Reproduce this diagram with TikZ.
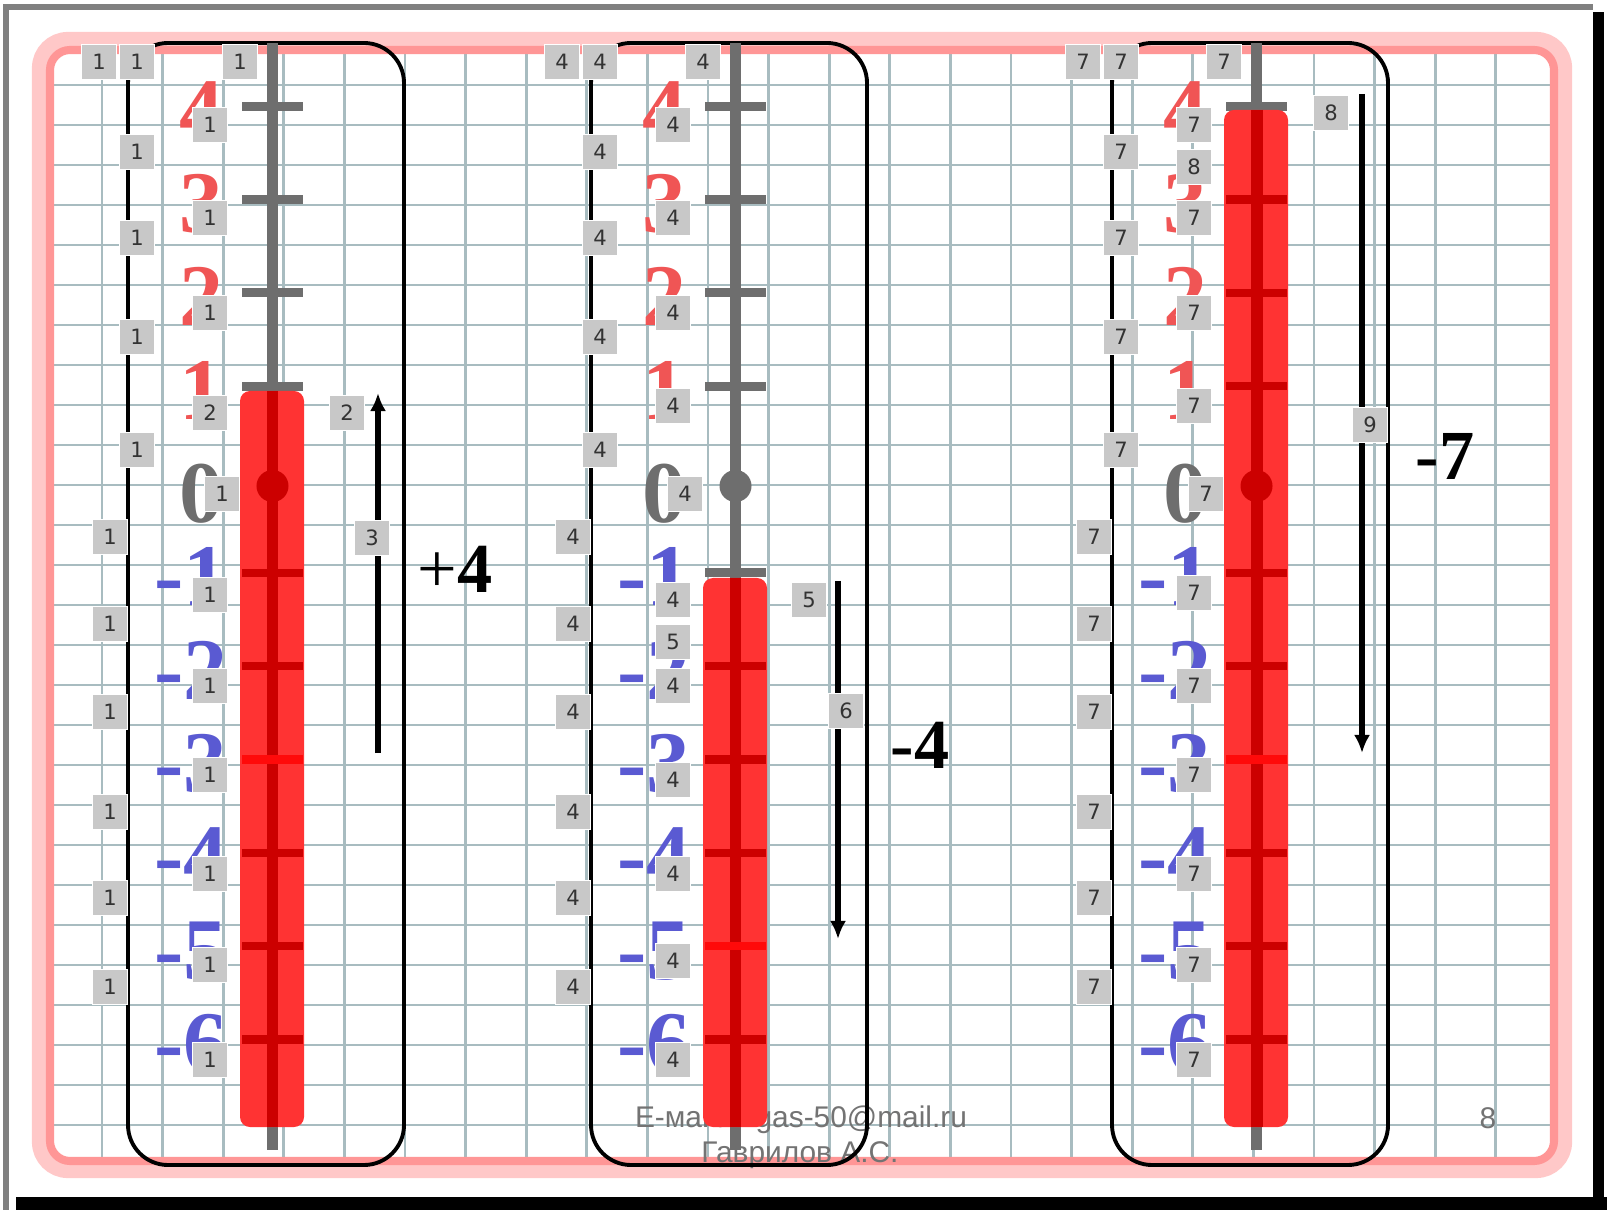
\documentclass[tikz,border=0pt]{standalone}
\usepackage{fontspec}
\setmainfont{Liberation Serif}
\newfontfamily\boxfont{DejaVu Sans}
\newfontfamily\footfont{Liberation Sans}
\usepackage{tikz}
\usetikzlibrary{
  arrows.meta,
  positioning
}

\definecolor{gridc}{RGB}{168,188,192}
\definecolor{pinkout}{RGB}{255,200,200}
\definecolor{pinkin}{RGB}{255,150,150}
\definecolor{stemgray}{RGB}{110,110,110}
\definecolor{barred}{RGB}{255,51,51}
\definecolor{darkred}{RGB}{204,0,0}
\definecolor{hired}{RGB}{255,10,10}
\definecolor{numred}{RGB}{240,85,85}
\definecolor{numblue}{RGB}{90,90,210}
\definecolor{boxgray}{RGB}{200,200,200}
\definecolor{footgray}{RGB}{115,115,115}

\tikzset{
  gridline/.style={gridc, line width=0.8pt},
  panelbox/.style={line width=1.1pt, rounded corners=0.4cm},
  anim/.style={draw=white, line width=0.3pt, fill=boxgray, minimum size=0.35cm,
    inner sep=0pt, text=black!80, font=\boxfont\fontsize{6}{6}\selectfont},
  scalenum/.style={anchor=base east, inner sep=0pt,
    font=\fontsize{25}{25}\selectfont\bfseries},
  result/.style={anchor=base, inner sep=0pt, font=\fontsize{20}{20}\selectfont},
  foot/.style={anchor=base, inner sep=0pt, text=footgray,
    font=\footfont\fontsize{8.5}{8.5}\selectfont},
  arr/.style={line width=1.5pt, -{Latex[length=0.18cm,width=0.16cm]}}
}

\begin{document}
\begin{tikzpicture}[x=0.01cm, y=-0.01cm]
\useasboundingbox (0,0) rectangle (1607,1210);

% slide with its shadow
\fill[white] (0,0) rectangle (1607,1210);
\fill[black] (16,1197) rectangle (1607,1210);
\fill[black] (1593,12) rectangle (1604,1210);
\draw[gray, line width=1.6pt] (6,1210) -- (6,7) -- (1593,7);

% squared paper
\begin{scope}
\clip (54,54) rectangle (1550,1157);
\foreach \k in {0,...,26}
  \draw[gridline] (54,{85+40*\k}) -- (1550,{85+40*\k});
\foreach \k in {0,...,23}
  \draw[gridline] ({102+60.6*\k},54) -- ({102+60.6*\k},1157);
\end{scope}

% pink border
\draw[pinkout, line width=4.6pt, rounded corners=0.28cm] (40,40) rectangle (1564,1170);
\draw[pinkin, line width=2.3pt, rounded corners=0.2cm] (50,50) rectangle (1554,1161);

% footer
\node[foot] (mail) at (801,1127) {E-майл: gas-50@mail.ru};
\node[foot] (author) at (800,1162) {Гаврилов А.С.};
\node[foot] (page) at (1488,1128) {8};

% three thermometers
\foreach \dx/\p/\lab/\barTop/\rticks/\hi in
  {0/1/1/391/{-1,-2,-4,-5,-6}/-3,
   463/2/4/578/{-2,-3,-4,-6}/-5,
   984/3/7/110/{3,2,1,-1,-2,-4,-5,-6}/-3}{
\begin{scope}[shift={(\dx,0)}, name prefix=p\p-]
  \draw[panelbox] (128,43) rectangle (404,1165);
  % scale numbers
  \foreach \v in {4,3,2,1}
    \node[scalenum, numred] (n\v) at (224,{512.5-93.33*\v}) {\v};
  \node[scalenum, stemgray] (n0) at (224,523) {0};
  \foreach \v in {1,...,6}
    \node[scalenum, numblue] (m\v) at (228,{512.5+93.33*\v}) {-\v};
  % stem and ticks
  \draw[stemgray, line width=3.1pt] (272.5,43) -- (272.5,1150);
  \foreach \v in {4,3,2,1,-1,-2,-3,-4,-5,-6}
    \draw[stemgray, line width=2.6pt] (242,{479.5-93.33*(\v)}) -- (303,{479.5-93.33*(\v)});
  \fill[stemgray] (272.5,486) circle (0.16cm);
  % red column
  \fill[barred, rounded corners=0.1cm] (240,\barTop) rectangle (304,1127);
  \draw[darkred, line width=3.4pt] (272.5,\barTop) -- (272.5,1127);
  \foreach \v in \rticks
    \draw[darkred, line width=2.3pt] (242,{479.5-93.33*(\v)}) -- (303,{479.5-93.33*(\v)});
  \draw[hired, line width=2.3pt] (242,{479.5-93.33*(\hi)}) -- (303,{479.5-93.33*(\hi)});
  \ifnum\barTop<480 \fill[darkred] (272.5,486) circle (0.16cm); \fi
  % animation markers
  \node[anim] (a1) at (99,62) {\lab};
  \node[anim] (a2) at (137,62) {\lab};
  \node[anim] (a3) at (240,62) {\lab};
  \foreach \y [count=\i] in {152,238,337,450}
    \node[anim] (l\i) at (137,\y) {\lab};
  \foreach \y [count=\i] in {537,624,712,812,898,987}
    \node[anim] (b\i) at (110,\y) {\lab};
  \node[anim] (c0) at (222,494) {\lab};
\end{scope}}

% +4
\foreach \y/\t [count=\i] in {125/1,218/1,313/1,413/2,595/1,686/1,775/1,874/1,965/1,1060/1}
  \node[anim] (p1-s\i) at (210,\y) {\t};
\coordinate (p1-tail) at (378,753);
\coordinate (p1-tip) at (378,393);
\draw[arr] (p1-tail) -- (p1-tip);
\node[anim] (p1-r1) at (347,413) {2};
\node[anim] (p1-r2) at (372,538) {3};
\node[result] (p1-res) at (455,593) {+\textbf{4}};

% -4
\foreach \y/\t [count=\i] in {125/4,218/4,313/4,406/4,600/4,642/5,686/4,780/4,874/4,961/4,1060/4}
  \node[anim] (p2-s\i) at (673,\y) {\t};
\coordinate (p2-tail) at (838,581);
\coordinate (p2-tip) at (838,939);
\draw[arr] (p2-tail) -- (p2-tip);
\node[anim] (p2-r1) at (809,600) {5};
\node[anim] (p2-r2) at (846,711) {6};
\node[result] (p2-res) at (920,768) {\textbf{-4}};

% -7
\foreach \y/\t [count=\i] in {125/7,167/8,218/7,313/7,406/7,593/7,686/7,775/7,874/7,965/7,1060/7}
  \node[anim] (p3-s\i) at (1194,\y) {\t};
\coordinate (p3-tail) at (1362,94);
\coordinate (p3-tip) at (1362,753);
\draw[arr] (p3-tail) -- (p3-tip);
\node[anim] (p3-r1) at (1331,113) {8};
\node[anim] (p3-r2) at (1370,425) {9};
\node[result] (p3-res) at (1445,480) {\textbf{-7}};

\end{tikzpicture}
\end{document}
